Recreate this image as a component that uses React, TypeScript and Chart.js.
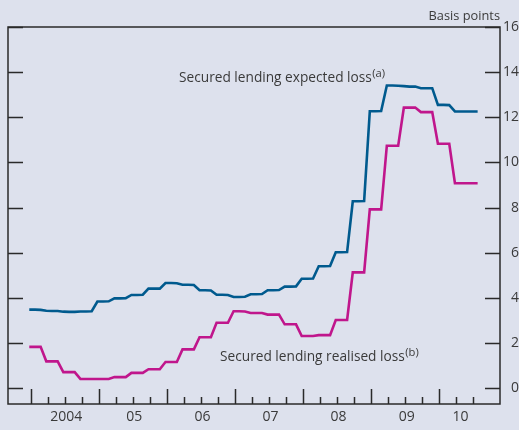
import React, { useEffect, useRef } from "react";
import { Chart, registerables } from "chart.js";

Chart.register(...registerables);

// Monthly data, Jan 2004 – Aug 2010 (basis points)
const expectedLoss = [
  3.48, 3.48, 3.47, 3.43, 3.42, 3.42, 3.39, 3.38, 3.38, 3.40, 3.40, 3.41,
  3.84, 3.84, 3.85, 3.98, 3.98, 3.99, 4.13, 4.13, 4.14, 4.41, 4.41, 4.41,
  4.66, 4.66, 4.65, 4.58, 4.58, 4.57, 4.34, 4.34, 4.33, 4.14, 4.14, 4.13,
  4.04, 4.04, 4.05, 4.16, 4.16, 4.17, 4.34, 4.34, 4.35, 4.50, 4.50, 4.51,
  4.85, 4.85, 4.86, 5.40, 5.40, 5.41, 6.02, 6.02, 6.03, 8.28, 8.28, 8.29,
  12.27, 12.27, 12.28, 13.41, 13.41, 13.40, 13.38, 13.36, 13.36, 13.29, 13.29, 13.29,
  12.55, 12.55, 12.54, 12.26, 12.26, 12.26, 12.26, 12.26,
];
const realisedLoss = [
  1.83, 1.83, 1.83, 1.19, 1.19, 1.19, 0.71, 0.71, 0.71, 0.41, 0.41, 0.41,
  0.41, 0.41, 0.41, 0.49, 0.49, 0.49, 0.68, 0.68, 0.68, 0.84, 0.84, 0.84,
  1.16, 1.16, 1.16, 1.72, 1.72, 1.72, 2.26, 2.26, 2.26, 2.90, 2.90, 2.90,
  3.41, 3.41, 3.40, 3.33, 3.33, 3.33, 3.26, 3.26, 3.26, 2.83, 2.83, 2.83,
  2.31, 2.31, 2.31, 2.35, 2.35, 2.35, 3.02, 3.02, 3.02, 5.13, 5.13, 5.13,
  7.92, 7.92, 7.92, 10.74, 10.74, 10.74, 12.43, 12.43, 12.43, 12.23, 12.23, 12.23,
  10.83, 10.83, 10.83, 9.08, 9.08, 9.08, 9.08, 9.08,
];
const yearLabels = ["2004", "05", "06", "07", "08", "09", "10"];
const yTickValues = [0, 2, 4, 6, 8, 10, 12, 14, 16];
const seriesNames = ["Secured lending expected loss", "Secured lending realised loss"];
const seriesNotes = ["(a)", "(b)"];

const BG = "#dde1ed";
const BLUE = "#005a8e";
const MAGENTA = "#c0168c";
const TEXT = "#3a3a3a";
const AXIS = "#2a2a2a";
const FONT = "'Open Sans', 'Noto Sans', sans-serif";

const n = expectedLoss.length;
const BOUNDARY_SHIFT = 0.25;

const labelCenters = yearLabels.map((_, k) => {
  const start = k * 12;
  const end = Math.min(start + 12, n - 1);
  return (start + end) / 2 + 0.5;
});

const decorPlugin = {
  id: "decor",
  beforeDatasetsDraw(chart: any) {
    const { ctx, chartArea: a, scales } = chart;
    const x = scales.x;
    const y = scales.y;
    ctx.save();
    ctx.strokeStyle = AXIS;
    ctx.lineWidth = 1.5;
    ctx.beginPath();
    yTickValues.forEach((v) => {
      const py = Math.round(y.getPixelForValue(v)) + 0.5;
      ctx.moveTo(a.left, py);
      ctx.lineTo(a.left + 15, py);
      ctx.moveTo(a.right - 15, py);
      ctx.lineTo(a.right, py);
    });
    for (let i = 0; i <= n - 1; i += 3) {
      const px = Math.round(x.getPixelForValue(i + BOUNDARY_SHIFT)) + 0.5;
      const len = i % 12 === 0 ? 15 : 7;
      ctx.moveTo(px, a.bottom);
      ctx.lineTo(px, a.bottom - len);
    }
    ctx.stroke();
    ctx.strokeRect(a.left, a.top, a.right - a.left, a.bottom - a.top);
    ctx.restore();
  },
  afterDraw(chart: any) {
    const { ctx, chartArea: a } = chart;
    ctx.save();
    ctx.fillStyle = TEXT;
    ctx.textBaseline = "alphabetic";
    // unit label
    ctx.font = `12.8px ${FONT}`;
    ctx.textAlign = "right";
    ctx.fillText("Basis points", a.right, 20);
    // series annotations
    const spots = [
      { x: 179, y: 82 },
      { x: 220, y: 361 },
    ];
    ctx.textAlign = "left";
    seriesNames.forEach((name, i) => {
      ctx.font = `13.7px ${FONT}`;
      ctx.fillText(name, spots[i].x, spots[i].y);
      const w = ctx.measureText(name).width;
      ctx.font = `11.2px ${FONT}`;
      ctx.fillText(seriesNotes[i], spots[i].x + w + 0.5, spots[i].y - 5.5);
    });
    ctx.restore();
  },
};

export default function App() {
  const canvasRef = useRef<HTMLCanvasElement | null>(null);

  useEffect(() => {
    document.body.style.margin = "0";
    document.body.style.background = BG;
    const canvas = canvasRef.current;
    if (!canvas) return;
    const points = (arr: number[]) => arr.map((v, i) => ({ x: i, y: v }));
    const chart = new Chart(canvas, {
      type: "line",
      data: {
        datasets: [
          {
            label: seriesNames[0],
            data: points(expectedLoss),
            borderColor: BLUE,
            borderWidth: 2.6,
            pointRadius: 0,
            tension: 0,
            fill: false,
          },
          {
            label: seriesNames[1],
            data: points(realisedLoss),
            borderColor: MAGENTA,
            borderWidth: 2.6,
            pointRadius: 0,
            tension: 0,
            fill: false,
          },
        ],
      },
      options: {
        animation: false,
        responsive: false,
        devicePixelRatio: 1,
        layout: { padding: { left: 8, top: 27, right: 0, bottom: 0 } },
        plugins: {
          legend: { display: false },
          tooltip: { enabled: false },
        },
        scales: {
          x: {
            type: "linear",
            min: -3.75,
            max: 82.94,
            border: { display: false },
            grid: { display: false, drawTicks: false },
            afterFit: (s: any) => {
              s.height = 26;
            },
            afterBuildTicks: (s: any) => {
              s.ticks = labelCenters.map((v) => ({ value: v }));
            },
            ticks: {
              autoSkip: false,
              maxRotation: 0,
              padding: 5,
              color: TEXT,
              font: { family: FONT, size: 14 },
              callback: (_v: any, idx: number) => yearLabels[idx],
            },
          },
          y: {
            type: "linear",
            position: "right",
            min: -0.7,
            max: 16,
            border: { display: false },
            grid: { display: false, drawTicks: false },
            afterFit: (s: any) => {
              s.width = 19;
            },
            afterBuildTicks: (s: any) => {
              s.ticks = yTickValues.map((v) => ({ value: v }));
            },
            ticks: {
              padding: 3,
              crossAlign: "far",
              color: TEXT,
              font: { family: FONT, size: 14 },
            },
          },
        },
      },
      plugins: [decorPlugin],
    } as any);
    return () => chart.destroy();
  }, []);

  return (
    <div style={{ width: 519, height: 430, background: BG }}>
      <canvas ref={canvasRef} width={519} height={430} style={{ display: "block" }} />
    </div>
  );
}
